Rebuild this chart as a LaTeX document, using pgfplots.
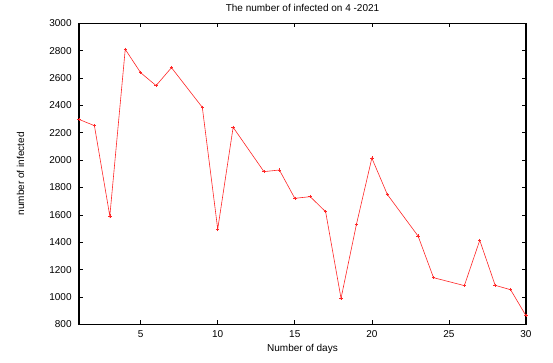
\documentclass[border=0pt]{standalone}
\usepackage{fontspec}
\setmainfont{Liberation Sans}
\usepackage{pgfplots}
\pgfplotsset{compat=1.18}
\begin{document}
\begin{tikzpicture}[x=1pt,y=1pt]
\useasboundingbox (-59.25,-28.5) rectangle (355.5,243.25);
\begin{axis}[
  at={(0,0)}, anchor=south west,
  scale only axis, width=335.25pt, height=225.75pt,
  xmin=1, xmax=30, ymin=800, ymax=3000,
  xtick={5,10,15,20,25,30},
  ytick={800,1000,...,3000},
  tick align=inside,
  major tick length=3pt,
  axis line style={line width=0.8pt},
  tick style={line width=0.5pt, black},
  /pgf/number format/assume math mode=true,
  /pgf/number format/1000 sep={},
  tick label style={font=\fontsize{7.5}{9}\selectfont},
  yticklabel style={xshift=-2pt},
  xticklabel style={yshift=-1pt},
  label style={font=\fontsize{7.5}{9}\selectfont},
  xlabel={Number of days},
  ylabel={number of infected},
  xlabel style={yshift=1.5pt},
  ylabel style={yshift=12pt},
  title={The number of infected on 4 -2021},
  title style={font=\fontsize{7.5}{9}\selectfont, yshift=-1pt},
]
\addplot[red!85!white, line width=0.45pt, mark=+, mark size=1.3pt, mark options={line width=0.4pt}] coordinates {
(1,2298) (2,2252) (3,1591) (4,2810) (5,2639) (6,2545) (7,2676) (9,2386)
(10,1496) (11,2240) (13,1916) (14,1928) (15,1721) (16,1733) (17,1623)
(18,990) (19,1531) (20,2015) (21,1750) (23,1445) (24,1141) (26,1083)
(27,1414) (28,1085) (29,1053) (30,863)
};
\end{axis}
\end{tikzpicture}
\end{document}
